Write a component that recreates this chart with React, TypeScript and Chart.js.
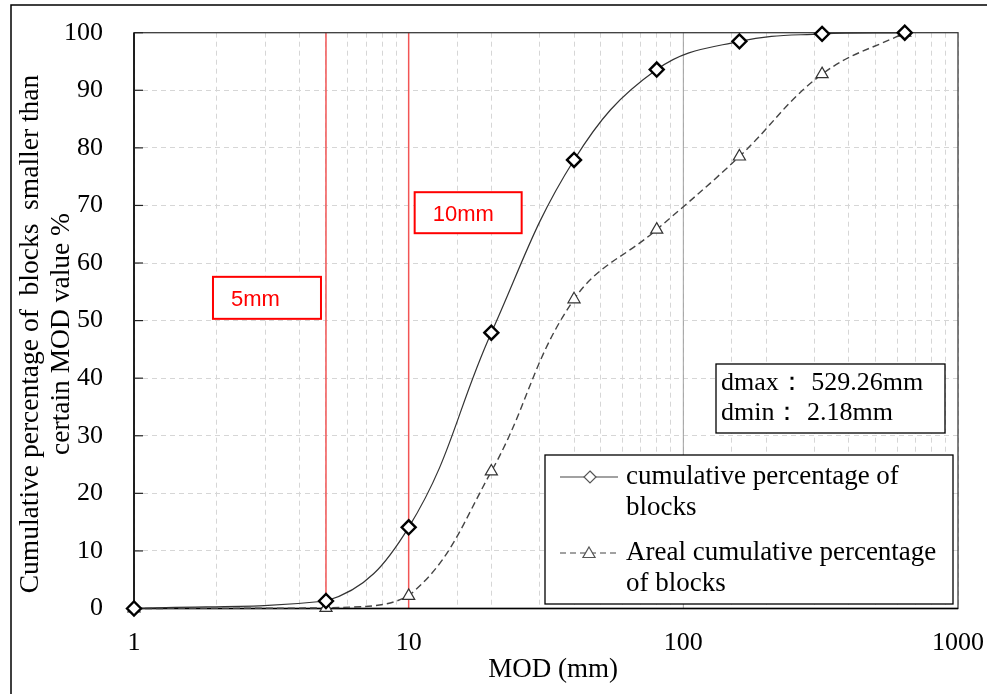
import React, { useEffect, useRef } from 'react';
import { Chart, registerables } from 'chart.js';

Chart.register(...registerables);

// ---- data ----
const modValues = [1, 5, 10, 20, 40, 80, 160, 320, 640];
const cumulativePct = [0, 1.3, 14.1, 47.9, 77.9, 93.6, 98.5, 99.8, 100];
const arealPct = [0, 0.1, 2.2, 23.8, 53.7, 65.8, 78.5, 92.8, 100];
const seriesNames = [
  ['cumulative percentage of', 'blocks'],
  ['Areal cumulative percentage', 'of blocks'],
];
const xTickValues = [1, 10, 100, 1000];
const yTickValues = [0, 10, 20, 30, 40, 50, 60, 70, 80, 90, 100];
const markerLines = [5, 10];
const markerLabels = ['5mm', '10mm'];
const infoLines = ['dmax\uFF1A 529.26mm', 'dmin\uFF1A 2.18mm'];
const xTitle = 'MOD (mm)';
const yTitleLines = ['Cumulative percentage of  blocks  smaller than', 'certain MOD value %'];

const SERIF = '"Liberation Serif", "Times New Roman", serif';
const SANS = '"Liberation Sans", Arial, sans-serif';

function drawDiamond(ctx: CanvasRenderingContext2D, x: number, y: number, r: number) {
  ctx.beginPath();
  ctx.moveTo(x, y - r);
  ctx.lineTo(x + r, y);
  ctx.lineTo(x, y + r);
  ctx.lineTo(x - r, y);
  ctx.closePath();
}
function drawTriangle(ctx: CanvasRenderingContext2D, x: number, y: number, r: number) {
  ctx.beginPath();
  ctx.moveTo(x, y - r);
  ctx.lineTo(x + r * 0.866, y + r * 0.5);
  ctx.lineTo(x - r * 0.866, y + r * 0.5);
  ctx.closePath();
}

const decorPlugin = {
  id: 'decor',
  beforeDatasetsDraw(chart: any) {
    const { ctx, chartArea: a, scales } = chart;
    const x = scales.x;
    const y = scales.y;
    ctx.save();
    const x100 = x.getPixelForValue(100);
    ctx.strokeStyle = '#a0a0a0';
    ctx.lineWidth = 1;
    ctx.beginPath();
    ctx.moveTo(x100, a.top);
    ctx.lineTo(x100, a.bottom);
    ctx.stroke();
    ctx.strokeStyle = '#f25555';
    ctx.lineWidth = 1.5;
    markerLines.forEach((v) => {
      const px = x.getPixelForValue(v);
      ctx.beginPath();
      ctx.moveTo(px, a.top);
      ctx.lineTo(px, a.bottom);
      ctx.stroke();
    });
    ctx.strokeStyle = '#3c3c3c';
    ctx.lineWidth = 1.3;
    ctx.strokeRect(a.left, a.top, a.right - a.left, a.bottom - a.top);
    ctx.strokeStyle = '#000';
    ctx.lineWidth = 1.5;
    ctx.beginPath();
    ctx.moveTo(a.left, a.top);
    ctx.lineTo(a.left, a.bottom);
    ctx.lineTo(a.right, a.bottom);
    ctx.stroke();
    ctx.strokeStyle = '#222';
    ctx.lineWidth = 1.2;
    yTickValues.forEach((v) => {
      const py = y.getPixelForValue(v);
      ctx.beginPath();
      ctx.moveTo(a.left, py);
      ctx.lineTo(a.left + 9, py);
      ctx.stroke();
    });
    ctx.restore();
  },
  afterDatasetsDraw(chart: any) {
    const { ctx, scales } = chart;
    const x = scales.x;
    const y = scales.y;
    ctx.save();

    const l5 = x.getPixelForValue(markerLines[0]);
    const l10 = x.getPixelForValue(markerLines[1]);
    const boxes = [
      { bx: l5 - 113, by: y.getPixelForValue(57.6), w: 108, h: 42, text: markerLabels[0] },
      { bx: l10 + 6, by: y.getPixelForValue(72.3), w: 107, h: 41, text: markerLabels[1] },
    ];
    boxes.forEach((b) => {
      ctx.fillStyle = '#fff';
      ctx.fillRect(b.bx, b.by, b.w, b.h);
      ctx.strokeStyle = '#ff0000';
      ctx.lineWidth = 2;
      ctx.strokeRect(b.bx, b.by, b.w, b.h);
      ctx.fillStyle = '#ff0000';
      ctx.font = `22px ${SANS}`;
      ctx.textAlign = 'left';
      ctx.textBaseline = 'middle';
      ctx.fillText(b.text, b.bx + 18, b.by + b.h / 2 + 2);
    });

    ctx.fillStyle = '#fff';
    ctx.fillRect(716, 364, 229, 69);
    ctx.strokeStyle = '#000';
    ctx.lineWidth = 1.3;
    ctx.strokeRect(716, 364, 229, 69);
    ctx.fillStyle = '#000';
    ctx.font = `26px ${SERIF}`;
    ctx.textAlign = 'left';
    ctx.textBaseline = 'middle';
    ctx.fillText(infoLines[0], 721, 383);
    ctx.fillText(infoLines[1], 721, 413);

    ctx.fillStyle = '#fff';
    ctx.fillRect(545, 455, 408, 149);
    ctx.strokeStyle = '#000';
    ctx.lineWidth = 1.3;
    ctx.strokeRect(545, 455, 408, 149);
    const ds = chart.data.datasets;
    const rows = [477, 553];
    rows.forEach((ry, i) => {
      ctx.strokeStyle = '#444';
      ctx.lineWidth = 1.2;
      ctx.setLineDash(i === 1 ? [6, 4] : []);
      ctx.beginPath();
      ctx.moveTo(560, ry);
      ctx.lineTo(618, ry);
      ctx.stroke();
      ctx.setLineDash([]);
      ctx.fillStyle = '#fff';
      ctx.strokeStyle = '#555';
      ctx.lineWidth = 1.2;
      if (ds[i].pointStyle === 'rectRot') drawDiamond(ctx, 590, ry, 6);
      else drawTriangle(ctx, 589, ry + 1, 7);
      ctx.fill();
      ctx.stroke();
      ctx.fillStyle = '#000';
      ctx.font = `27px ${SERIF}`;
      ctx.textAlign = 'left';
      ctx.textBaseline = 'middle';
      seriesNames[i].forEach((t, k) => ctx.fillText(t, 626, ry + k * 31));
    });

    ctx.fillStyle = '#000';
    ctx.font = `27px ${SERIF}`;
    ctx.textAlign = 'center';
    ctx.textBaseline = 'middle';
    ctx.fillText(xTitle, 553, 670);
    ctx.font = `27.5px ${SERIF}`;
    ctx.save();
    ctx.translate(31, 334);
    ctx.rotate(-Math.PI / 2);
    ctx.fillText(yTitleLines[0], 0, 0);
    ctx.restore();
    ctx.save();
    ctx.translate(62, 334);
    ctx.rotate(-Math.PI / 2);
    ctx.fillText(yTitleLines[1], 0, 0);
    ctx.restore();

    ctx.strokeStyle = '#000';
    ctx.lineWidth = 1.5;
    ctx.beginPath();
    ctx.moveTo(11, 694);
    ctx.lineTo(11, 5);
    ctx.lineTo(987, 5);
    ctx.stroke();
    ctx.restore();
  },
};

export default function App() {
  const canvasRef = useRef<HTMLCanvasElement | null>(null);

  useEffect(() => {
    const canvas = canvasRef.current;
    if (!canvas) return;
    const chart = new Chart(canvas, {
      type: 'line',
      data: {
        datasets: [
          {
            label: seriesNames[0].join(' '),
            data: modValues.map((m, i) => ({ x: m, y: cumulativePct[i] })),
            borderColor: '#333',
            borderWidth: 1.2,
            tension: 0.4,
            fill: false,
            clip: false as any,
            pointStyle: 'rectRot',
            pointRadius: 7,
            pointBorderWidth: 2.4,
            pointBorderColor: '#000',
            pointBackgroundColor: '#fff',
          },
          {
            label: seriesNames[1].join(' '),
            data: modValues.map((m, i) => ({ x: m, y: arealPct[i] })),
            borderColor: '#444',
            borderWidth: 1.4,
            borderDash: [7, 4],
            tension: 0.4,
            fill: false,
            clip: false as any,
            pointStyle: 'triangle',
            pointRadius: 7,
            pointBorderWidth: 1.2,
            pointBorderColor: '#333',
            pointBackgroundColor: '#fff',
          },
        ],
      },
      options: {
        responsive: false,
        animation: false,
        devicePixelRatio: 1,
        layout: { padding: { left: 0, top: 32.7, right: 29, bottom: 0 } },
        plugins: {
          legend: { display: false },
          tooltip: { enabled: false },
        },
        scales: {
          x: {
            type: 'logarithmic',
            min: 1,
            max: 1000,
            afterFit: (s: any) => {
              s.height = 85.5;
              s.paddingLeft = 0;
              s.paddingRight = 0;
            },
            grid: { color: '#d6d6d6', lineWidth: 1, drawTicks: false },
            border: { display: false, dash: [5, 4] },
            ticks: {
              autoSkip: false,
              maxRotation: 0,
              padding: 19,
              color: '#000',
              font: { family: SERIF, size: 26 },
              callback: (v: any) => (xTickValues.includes(Number(v)) ? String(v) : ''),
            },
          },
          y: {
            type: 'linear',
            min: 0,
            max: 100,
            afterFit: (s: any) => {
              s.width = 134;
              s.paddingTop = 0;
              s.paddingBottom = 0;
            },
            grid: { color: '#d6d6d6', lineWidth: 1, drawTicks: false },
            border: { display: false, dash: [5, 4] },
            ticks: {
              stepSize: 10,
              padding: 31,
              color: '#000',
              font: { family: SERIF, size: 26 },
            },
          },
        },
      },
      plugins: [decorPlugin],
    });
    return () => chart.destroy();
  }, []);

  return (
    <div style={{ position: 'absolute', left: 0, top: 0, width: 987, height: 694, background: '#fff' }}>
      <canvas ref={canvasRef} width={987} height={694} />
    </div>
  );
}
